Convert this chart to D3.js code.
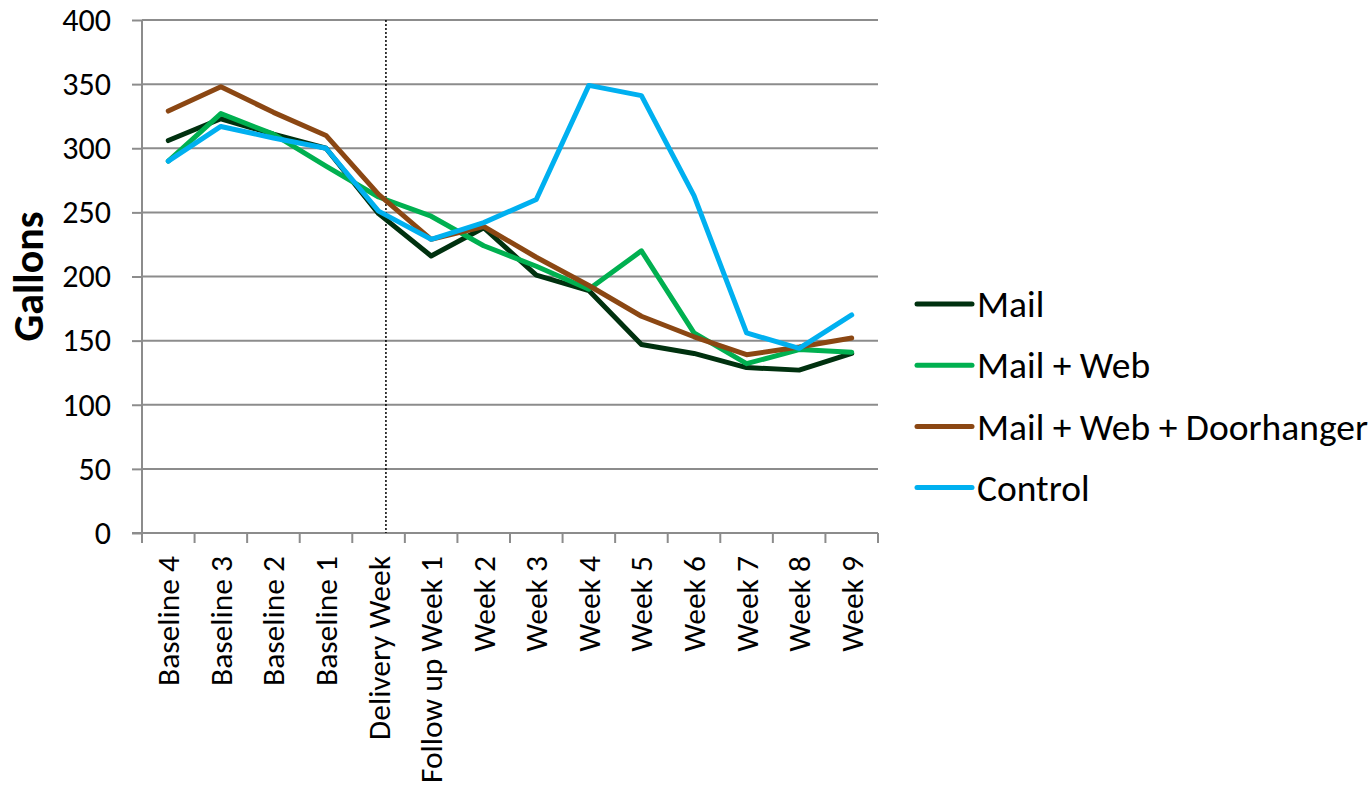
<!DOCTYPE html>
<html>
<head>
<meta charset="utf-8">
<script src="https://cdn.jsdelivr.net/npm/d3@7"></script>
<style>
  body { margin: 0; background: #fff; }
  text { font-family: Carlito, Calibri, Lato, sans-serif; fill: #000; }
</style>
</head>
<body>
<script>
// weekly water use, gallons
var categories = ["Baseline 4", "Baseline 3", "Baseline 2", "Baseline 1", "Delivery Week",
  "Follow up Week 1", "Week 2", "Week 3", "Week 4", "Week 5", "Week 6", "Week 7", "Week 8", "Week 9"];

var mail    = [306, 323, 311, 300, 249, 216, 238, 201, 189, 147, 140, 129, 127, 140];
var mailWeb = [290, 327, 311, 286, 262, 247, 224, 208, 190, 220, 156, 132, 143, 141];
var mailWebDoor = [329, 348, 328, 310, 264, 229, 239, 215, 193, 169, 153, 139, 145, 152];
var control = [290, 317, 308, 300, 251, 229, 242, 260, 349, 341, 263, 156, 144, 170];

var seriesNames = ["Mail", "Mail + Web", "Mail + Web + Doorhanger", "Control"];
var yTicks = [0, 50, 100, 150, 200, 250, 300, 350, 400];

var colors = {
  "Mail": "#00310f",
  "Mail + Web": "#00b050",
  "Mail + Web + Doorhanger": "#8b4713",
  "Control": "#00b0f0"
};
var gridColor = "#8c8c8c";

var series = [mail, mailWeb, mailWebDoor, control].map(function(vals, i) {
  return { name: seriesNames[i], values: vals };
});

var width = 1370, height = 786;
var margin = { top: 20, right: 492, bottom: 253, left: 142 };

var svg = d3.select("body").append("svg")
  .attr("width", width)
  .attr("height", height);

var x = d3.scaleBand()
  .domain(categories)
  .range([margin.left, width - margin.right]);

var y = d3.scaleLinear()
  .domain([0, 400])
  .range([height - margin.bottom, margin.top]);

// horizontal gridlines
svg.append("g")
  .selectAll("line")
  .data(yTicks.slice(1))
  .enter()
  .append("line")
  .attr("x1", margin.left)
  .attr("x2", width - margin.right)
  .attr("y1", function(d) { return y(d); })
  .attr("y2", function(d) { return y(d); })
  .attr("stroke", gridColor)
  .attr("stroke-width", 2);

// y axis
var yAxis = svg.append("g")
  .attr("transform", "translate(" + margin.left + ",0)")
  .call(d3.axisLeft(y).tickValues(yTicks).tickSize(10).tickPadding(21));
yAxis.selectAll("path, line").attr("stroke", gridColor).attr("stroke-width", 2);
yAxis.select(".domain").attr("d", "M0," + y(400) + "V" + y(0));
yAxis.selectAll("text").style("font-size", "32px");

// x axis, ticks sit on the category boundaries
var xAxis = svg.append("g")
  .attr("transform", "translate(0," + y(0) + ")");
xAxis.append("line")
  .attr("x1", margin.left - 10)
  .attr("x2", width - margin.right)
  .attr("stroke", gridColor)
  .attr("stroke-width", 2);
var bounds = categories.map(function(c) { return x(c); }).concat([x.range()[1]]);
xAxis.selectAll("line.tick")
  .data(bounds)
  .enter()
  .append("line")
  .attr("class", "tick")
  .attr("x1", function(d) { return d; })
  .attr("x2", function(d) { return d; })
  .attr("y1", 0)
  .attr("y2", 10)
  .attr("stroke", gridColor)
  .attr("stroke-width", 2);
xAxis.selectAll("text")
  .data(categories)
  .enter()
  .append("text")
  .attr("transform", function(d) {
    return "translate(" + (x(d) + x.bandwidth() / 2) + ",23) rotate(-90)";
  })
  .attr("text-anchor", "end")
  .attr("dy", "0.35em")
  .style("font-size", "31.5px")
  .text(function(d) { return d; });

// dotted marker just after delivery week
var markX = x("Delivery Week") + x.bandwidth() * 0.64;
svg.append("line")
  .attr("x1", markX)
  .attr("x2", markX)
  .attr("y1", y(400))
  .attr("y2", y(0))
  .attr("stroke", "#000")
  .attr("stroke-width", 1.5)
  .attr("stroke-dasharray", "2,2");

// lines
var line = d3.line()
  .x(function(d, i) { return x(categories[i]) + x.bandwidth() / 2; })
  .y(function(d) { return y(d); });

svg.append("g")
  .selectAll("path")
  .data(series)
  .enter()
  .append("path")
  .attr("d", function(d) { return line(d.values); })
  .attr("fill", "none")
  .attr("stroke", function(d) { return colors[d.name]; })
  .attr("stroke-width", 5)
  .attr("stroke-linejoin", "round")
  .attr("stroke-linecap", "round");

// y title
svg.append("text")
  .attr("transform", "translate(28," + y(200) + ") rotate(-90)")
  .attr("text-anchor", "middle")
  .attr("dy", "0.35em")
  .style("font-size", "42px")
  .style("font-weight", "bold")
  .text("Gallons");

// legend
var legend = svg.append("g")
  .selectAll("g")
  .data(series)
  .enter()
  .append("g")
  .attr("transform", function(d, i) { return "translate(917," + (304 + i * 61.2) + ")"; });
legend.append("line")
  .attr("x1", 0)
  .attr("x2", 55)
  .attr("stroke", function(d) { return colors[d.name]; })
  .attr("stroke-width", 5)
  .attr("stroke-linecap", "round");
legend.append("text")
  .attr("x", 60)
  .attr("dy", "0.35em")
  .style("font-size", "37.5px")
  .text(function(d) { return d.name; });
</script>
</body>
</html>
